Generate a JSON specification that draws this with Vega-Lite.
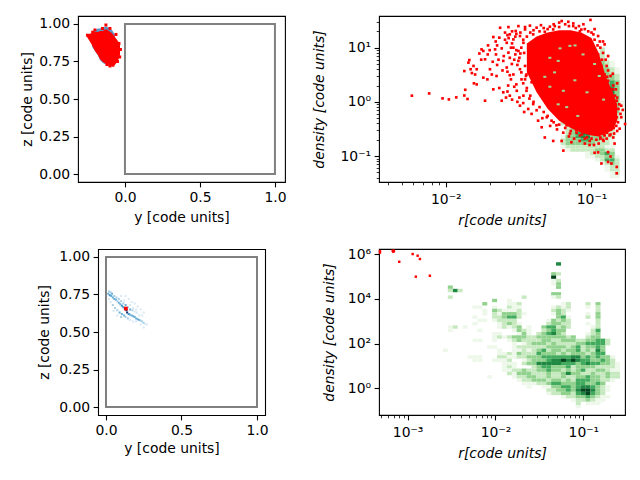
{"$schema":"https://vega.github.io/schema/vega-lite/v6.json","padding":{"left":20,"top":14,"right":0,"bottom":0},"spacing":17,"resolve":{"scale":{"color":"independent"}},"config":{"font":"DejaVu Sans","view":{"stroke":"black","strokeWidth":1.1},"axis":{"grid":false,"domain":false,"labelFont":"DejaVu Sans","titleFont":"DejaVu Sans","labelFontSize":13.9,"titleFontSize":13.9,"titleFontWeight":"normal","labelColor":"black","titleColor":"black","tickColor":"black","tickSize":4.9,"tickWidth":1.1,"labelPadding":3.5,"titlePadding":4,"labelOverlap":false,"labelBound":false,"labelFlush":false}},
"vconcat":[{"spacing":0,"resolve":{"scale":{"color":"independent"}},"hconcat":[
{"width":207,"height":166,"encoding":{"x":{"field":"r","type":"quantitative","scale":{"domain":[-0.313,1.067],"nice":false,"zero":false},"axis":{"values":[0,0.5,1],"format":".1f","title":"y [code units]","titlePadding":6}},"y":{"field":"d","type":"quantitative","scale":{"domain":[-0.053,1.053],"nice":false,"zero":false},"axis":{"values":[0,0.25,0.5,0.75,1],"format":".2f","title":"z [code units]"}}},
"layer":[
{"data":{"values":[{"r":0,"r2":1,"d":0,"d2":1}]},"mark":{"type":"rect","fillOpacity":0,"stroke":"gray","strokeWidth":2},"encoding":{"x2":{"field":"r2"},"y2":{"field":"d2"}}},
{"data":{"values":[{"r":-0.22,"d":0.95,"d2":0.85},{"r":-0.2,"d":0.96,"d2":0.82},{"r":-0.18,"d":0.97,"d2":0.79},{"r":-0.167,"d":0.97,"d2":0.76},{"r":-0.147,"d":0.975,"d2":0.74},{"r":-0.127,"d":0.985,"d2":0.73},{"r":-0.107,"d":0.975,"d2":0.72},{"r":-0.087,"d":0.96,"d2":0.72},{"r":-0.067,"d":0.93,"d2":0.73}]},"mark":{"type":"area","color":"#3d85c0","opacity":0.85},"encoding":{"y2":{"field":"d2"}}},
{"data":{"values":[{"r":-0.253,"d":0.933,"d2":0.913},{"r":-0.24,"d":0.933,"d2":0.893},{"r":-0.22,"d":0.94,"d2":0.86},{"r":-0.2,"d":0.947,"d2":0.82},{"r":-0.18,"d":0.947,"d2":0.793},{"r":-0.167,"d":0.953,"d2":0.767},{"r":-0.147,"d":0.953,"d2":0.747},{"r":-0.127,"d":0.967,"d2":0.733},{"r":-0.107,"d":0.953,"d2":0.727},{"r":-0.087,"d":0.94,"d2":0.72},{"r":-0.067,"d":0.913,"d2":0.727},{"r":-0.047,"d":0.887,"d2":0.753},{"r":-0.033,"d":0.86,"d2":0.793}]},"mark":{"type":"area","color":"red"},"encoding":{"y2":{"field":"d2"}}},
{"data":{"values":[{"r":-0.127,"d":0.993},{"r":-0.2,"d":0.96},{"r":-0.215,"d":0.945},{"r":-0.25,"d":0.925},{"r":-0.15,"d":0.97},{"r":-0.1,"d":0.97},{"r":-0.06,"d":0.93},{"r":-0.04,"d":0.87},{"r":-0.03,"d":0.83},{"r":-0.035,"d":0.78},{"r":-0.05,"d":0.75},{"r":-0.08,"d":0.725},{"r":-0.1,"d":0.72},{"r":-0.12,"d":0.73}]},"mark":{"type":"point","shape":"square","filled":true,"color":"red","size":9,"opacity":1}}
]},
{"width":24,"height":10,"view":{"stroke":null},"data":{"values":[]},"mark":"text","encoding":{}},
{"width":246,"height":166,"encoding":{"x":{"field":"r","type":"quantitative","scale":{"type":"log","domain":[0.00348,0.1698],"nice":false},"axis":{"values":[0.004,0.005,0.006,0.007,0.008,0.009,0.01,0.02,0.03,0.04,0.05,0.06,0.07,0.08,0.09,0.1],"labelPadding":6,"titlePadding":7,"tickSize":{"condition":{"test":"abs(log(datum.value)/LN10-round(log(datum.value)/LN10))<0.001","value":4.9},"value":2.8},"tickWidth":{"condition":{"test":"abs(log(datum.value)/LN10-round(log(datum.value)/LN10))<0.001","value":1.1},"value":0.8},"labelExpr":"abs(datum.value-0.01)<1e-6?'10⁻²':abs(datum.value-0.1)<1e-6?'10⁻¹':''","title":"r[code units]","titleFontStyle":"italic"}},"y":{"field":"d","type":"quantitative","scale":{"type":"log","domain":[0.0332,38.4],"nice":false},"axis":{"values":[0.04,0.05,0.06,0.07,0.08,0.09,0.1,0.2,0.3,0.4,0.5,0.6,0.7,0.8,0.9,1,2,3,4,5,6,7,8,9,10,20,30],"titlePadding":14,"tickSize":{"condition":{"test":"abs(log(datum.value)/LN10-round(log(datum.value)/LN10))<0.001","value":4.9},"value":2.8},"tickWidth":{"condition":{"test":"abs(log(datum.value)/LN10-round(log(datum.value)/LN10))<0.001","value":1.1},"value":0.8},"labelExpr":"abs(datum.value-0.1)<1e-6?'10⁻¹':abs(datum.value-1)<1e-6?'10⁰':abs(datum.value-10)<1e-6?'10¹':''","title":"density [code units]","titleFontStyle":"italic"}}},
"layer":[
{"data":{"values":[{"r":0.11,"d":8.75,"c":1},{"r":0.119,"d":8.75,"c":2},{"r":0.11,"d":6.61,"c":2},{"r":0.119,"d":6.61,"c":2},{"r":0.128,"d":6.61,"c":1},{"r":0.11,"d":4.99,"c":3},{"r":0.119,"d":4.99,"c":3},{"r":0.128,"d":4.99,"c":2},{"r":0.139,"d":4.99,"c":1},{"r":0.11,"d":3.77,"c":3},{"r":0.119,"d":3.77,"c":3},{"r":0.128,"d":3.77,"c":3},{"r":0.139,"d":3.77,"c":2},{"r":0.15,"d":3.77,"c":1},{"r":0.11,"d":2.84,"c":3},{"r":0.119,"d":2.84,"c":4},{"r":0.128,"d":2.84,"c":3},{"r":0.139,"d":2.84,"c":3},{"r":0.15,"d":2.84,"c":2},{"r":0.11,"d":2.15,"c":4},{"r":0.119,"d":2.15,"c":4},{"r":0.128,"d":2.15,"c":4},{"r":0.139,"d":2.15,"c":4},{"r":0.15,"d":2.15,"c":3},{"r":0.119,"d":1.62,"c":5},{"r":0.128,"d":1.62,"c":4},{"r":0.139,"d":1.62,"c":5},{"r":0.15,"d":1.62,"c":3},{"r":0.119,"d":1.22,"c":5},{"r":0.128,"d":1.22,"c":5},{"r":0.139,"d":1.22,"c":5},{"r":0.15,"d":1.22,"c":3},{"r":0.119,"d":0.922,"c":4},{"r":0.128,"d":0.922,"c":4},{"r":0.139,"d":0.922,"c":5},{"r":0.15,"d":0.922,"c":3},{"r":0.162,"d":0.922,"c":1},{"r":0.119,"d":0.697,"c":4},{"r":0.128,"d":0.697,"c":4},{"r":0.139,"d":0.697,"c":4},{"r":0.15,"d":0.697,"c":3},{"r":0.162,"d":0.697,"c":1},{"r":0.119,"d":0.526,"c":4},{"r":0.128,"d":0.526,"c":3},{"r":0.139,"d":0.526,"c":3},{"r":0.15,"d":0.526,"c":2},{"r":0.162,"d":0.526,"c":1}]},"mark":{"type":"rect","width":5,"height":6.8},"encoding":{"color":{"field":"c","type":"ordinal","legend":null,"scale":{"domain":[1,2,3,4,5,6],"range":["#eef8ea","#c7e9c0","#90d18d","#41ab5d","#1e8741","#00441b"]}}}},
{"data":{"values":[{"r":0.0638,"d":0.397,"c":2},{"r":0.069,"d":0.397,"c":2},{"r":0.0745,"d":0.397,"c":2},{"r":0.0805,"d":0.397,"c":3},{"r":0.0871,"d":0.397,"c":3},{"r":0.0941,"d":0.397,"c":3},{"r":0.1017,"d":0.397,"c":3},{"r":0.11,"d":0.397,"c":3},{"r":0.069,"d":0.345,"c":2},{"r":0.0745,"d":0.345,"c":3},{"r":0.0805,"d":0.345,"c":3},{"r":0.0871,"d":0.345,"c":4},{"r":0.0941,"d":0.345,"c":4},{"r":0.1017,"d":0.345,"c":3},{"r":0.11,"d":0.345,"c":4},{"r":0.119,"d":0.345,"c":3},{"r":0.128,"d":0.345,"c":3},{"r":0.139,"d":0.345,"c":2},{"r":0.069,"d":0.3,"c":2},{"r":0.0745,"d":0.3,"c":3},{"r":0.0805,"d":0.3,"c":3},{"r":0.0871,"d":0.3,"c":4},{"r":0.0941,"d":0.3,"c":5},{"r":0.1017,"d":0.3,"c":4},{"r":0.11,"d":0.3,"c":3},{"r":0.119,"d":0.3,"c":3},{"r":0.128,"d":0.3,"c":2},{"r":0.139,"d":0.3,"c":2},{"r":0.069,"d":0.261,"c":2},{"r":0.0745,"d":0.261,"c":3},{"r":0.0805,"d":0.261,"c":4},{"r":0.0871,"d":0.261,"c":5},{"r":0.0941,"d":0.261,"c":5},{"r":0.1017,"d":0.261,"c":4},{"r":0.11,"d":0.261,"c":4},{"r":0.119,"d":0.261,"c":3},{"r":0.128,"d":0.261,"c":2},{"r":0.139,"d":0.261,"c":2},{"r":0.0638,"d":0.226,"c":1},{"r":0.069,"d":0.226,"c":3},{"r":0.0745,"d":0.226,"c":3},{"r":0.0805,"d":0.226,"c":4},{"r":0.0871,"d":0.226,"c":5},{"r":0.0941,"d":0.226,"c":5},{"r":0.1017,"d":0.226,"c":3},{"r":0.11,"d":0.226,"c":3},{"r":0.119,"d":0.226,"c":3},{"r":0.128,"d":0.226,"c":2},{"r":0.139,"d":0.226,"c":2},{"r":0.0638,"d":0.197,"c":2},{"r":0.069,"d":0.197,"c":3},{"r":0.0745,"d":0.197,"c":3},{"r":0.0805,"d":0.197,"c":3},{"r":0.0871,"d":0.197,"c":4},{"r":0.0941,"d":0.197,"c":4},{"r":0.1017,"d":0.197,"c":3},{"r":0.11,"d":0.197,"c":3},{"r":0.119,"d":0.197,"c":2},{"r":0.128,"d":0.197,"c":2},{"r":0.139,"d":0.197,"c":1},{"r":0.0638,"d":0.171,"c":2},{"r":0.069,"d":0.171,"c":3},{"r":0.0745,"d":0.171,"c":3},{"r":0.0805,"d":0.171,"c":3},{"r":0.0871,"d":0.171,"c":3},{"r":0.0941,"d":0.171,"c":3},{"r":0.1017,"d":0.171,"c":3},{"r":0.11,"d":0.171,"c":2},{"r":0.119,"d":0.171,"c":2},{"r":0.128,"d":0.171,"c":2},{"r":0.139,"d":0.171,"c":1},{"r":0.0638,"d":0.148,"c":1},{"r":0.069,"d":0.148,"c":2},{"r":0.0745,"d":0.148,"c":2},{"r":0.0805,"d":0.148,"c":2},{"r":0.0871,"d":0.148,"c":2},{"r":0.0941,"d":0.148,"c":2},{"r":0.1017,"d":0.148,"c":2},{"r":0.11,"d":0.148,"c":2},{"r":0.119,"d":0.148,"c":2},{"r":0.128,"d":0.148,"c":1},{"r":0.139,"d":0.148,"c":1},{"r":0.069,"d":0.129,"c":1},{"r":0.0745,"d":0.129,"c":2},{"r":0.0805,"d":0.129,"c":2},{"r":0.0871,"d":0.129,"c":2},{"r":0.0941,"d":0.129,"c":2},{"r":0.1017,"d":0.129,"c":2},{"r":0.11,"d":0.129,"c":3},{"r":0.119,"d":0.129,"c":3},{"r":0.128,"d":0.129,"c":2},{"r":0.139,"d":0.129,"c":2},{"r":0.0941,"d":0.112,"c":1},{"r":0.1017,"d":0.112,"c":2},{"r":0.11,"d":0.112,"c":2},{"r":0.119,"d":0.112,"c":3},{"r":0.128,"d":0.112,"c":4},{"r":0.139,"d":0.112,"c":3},{"r":0.0941,"d":0.0973,"c":1},{"r":0.1017,"d":0.0973,"c":1},{"r":0.11,"d":0.0973,"c":2},{"r":0.119,"d":0.0973,"c":2},{"r":0.128,"d":0.0973,"c":3},{"r":0.139,"d":0.0973,"c":3},{"r":0.15,"d":0.0973,"c":1},{"r":0.11,"d":0.0845,"c":1},{"r":0.119,"d":0.0845,"c":2},{"r":0.128,"d":0.0845,"c":4},{"r":0.139,"d":0.0845,"c":4},{"r":0.15,"d":0.0845,"c":2},{"r":0.119,"d":0.0734,"c":1},{"r":0.128,"d":0.0734,"c":2},{"r":0.139,"d":0.0734,"c":3},{"r":0.15,"d":0.0734,"c":2},{"r":0.128,"d":0.0638,"c":1},{"r":0.139,"d":0.0638,"c":2},{"r":0.15,"d":0.0638,"c":2},{"r":0.128,"d":0.0555,"c":1},{"r":0.139,"d":0.0555,"c":2},{"r":0.15,"d":0.0555,"c":2},{"r":0.139,"d":0.0481,"c":1},{"r":0.15,"d":0.0481,"c":2},{"r":0.139,"d":0.0418,"c":1},{"r":0.15,"d":0.0418,"c":1}]},"mark":{"type":"rect","width":5,"height":3.4},"encoding":{"color":{"field":"c","type":"ordinal","legend":null,"scale":{"domain":[1,2,3,4,5,6],"range":["#eef8ea","#c7e9c0","#90d18d","#41ab5d","#1e8741","#00441b"]}}}},
{"data":{"values":[{"r":0.036,"d":12,"d2":3.5},{"r":0.042,"d":16,"d2":1.5},{"r":0.05,"d":19,"d2":0.75},{"r":0.06,"d":21,"d2":0.45},{"r":0.072,"d":21,"d2":0.33},{"r":0.085,"d":19,"d2":0.27},{"r":0.1,"d":15,"d2":0.24},{"r":0.112,"d":8,"d2":0.23},{"r":0.125,"d":3,"d2":0.26},{"r":0.14,"d":1.5,"d2":0.3},{"r":0.15,"d":0.9,"d2":0.45}]},"mark":{"type":"area","color":"red"},"encoding":{"y2":{"field":"d2"}}},
{"data":{"values":[{"r":0.0518,"d":1.9},{"r":0.0558,"d":3.5},{"r":0.0608,"d":9.7},{"r":0.0711,"d":10.8},{"r":0.0771,"d":11},{"r":0.0875,"d":7.5},{"r":0.105,"d":5},{"r":0.113,"d":3},{"r":0.0641,"d":1.6},{"r":0.0591,"d":0.9},{"r":0.0769,"d":2.5},{"r":0.0591,"d":5.7},{"r":0.0518,"d":6.5},{"r":0.0478,"d":2.9},{"r":0.0932,"d":1.5},{"r":0.121,"d":1.1},{"r":0.0805,"d":0.55},{"r":0.0676,"d":0.8}]},"mark":{"type":"rect","width":3,"height":2,"color":"#a1d99b"}},
{"data":{"values":[{"r":0.00585,"d":1.3},{"r":0.00769,"d":1.43},{"r":0.0095,"d":1.16},{"r":0.0105,"d":1.11},{"r":0.0118,"d":1.21},{"r":0.0134,"d":1.31},{"r":0.0136,"d":1.67},{"r":0.0141,"d":1.13},{"r":0.0186,"d":1.05},{"r":0.0143,"d":5.3},{"r":0.0145,"d":5.9},{"r":0.0134,"d":3.7},{"r":0.0148,"d":4},{"r":0.0155,"d":4.6},{"r":0.0163,"d":4},{"r":0.0159,"d":3.2},{"r":0.0151,"d":3.4},{"r":0.0156,"d":2.2},{"r":0.0163,"d":2.1},{"r":0.0176,"d":9.3},{"r":0.0181,"d":8.7},{"r":0.0194,"d":7.5},{"r":0.0218,"d":9.3},{"r":0.0186,"d":6.1},{"r":0.0181,"d":2.8},{"r":0.0193,"d":2.6},{"r":0.0201,"d":4},{"r":0.0207,"d":3.2},{"r":0.0223,"d":3},{"r":0.0221,"d":7.5},{"r":0.023,"d":6},{"r":0.0212,"d":15.7},{"r":0.0236,"d":23.3},{"r":0.0269,"d":24},{"r":0.0315,"d":25},{"r":0.0378,"d":25.5},{"r":0.0233,"d":15.3},{"r":0.0242,"d":9.7},{"r":0.0275,"d":17.6},{"r":0.0302,"d":20.3},{"r":0.0291,"d":14.2},{"r":0.0262,"d":12.3},{"r":0.0323,"d":16.4},{"r":0.035,"d":21.7},{"r":0.042,"d":23.4},{"r":0.0518,"d":24.4},{"r":0.0624,"d":31},{"r":0.0693,"d":30},{"r":0.0749,"d":25},{"r":0.0984,"d":32.5},{"r":0.0852,"d":21.6},{"r":0.111,"d":16.4},{"r":0.123,"d":11.5},{"r":0.114,"d":13},{"r":0.103,"d":17.6},{"r":0.0832,"d":20},{"r":0.0546,"d":21.7},{"r":0.0478,"d":19.6},{"r":0.0398,"d":17.6},{"r":0.0341,"d":12.3},{"r":0.0368,"d":10},{"r":0.0315,"d":8.7},{"r":0.0291,"d":10},{"r":0.0269,"d":8.1},{"r":0.0248,"d":5.7},{"r":0.0262,"d":4.3},{"r":0.0284,"d":5},{"r":0.0315,"d":5.7},{"r":0.0291,"d":3.2},{"r":0.0323,"d":4},{"r":0.035,"d":4.6},{"r":0.0331,"d":2.6},{"r":0.0358,"d":3.2},{"r":0.0388,"d":2.3},{"r":0.0212,"d":1.7},{"r":0.0233,"d":1.8},{"r":0.0248,"d":1.5},{"r":0.0259,"d":1.2},{"r":0.0242,"d":1.05},{"r":0.0275,"d":1.3},{"r":0.0307,"d":1.6},{"r":0.0341,"d":1.3},{"r":0.0358,"d":1.6},{"r":0.0323,"d":0.85},{"r":0.0368,"d":0.74},{"r":0.0398,"d":0.91},{"r":0.0388,"d":0.6},{"r":0.043,"d":0.45},{"r":0.0455,"d":0.34},{"r":0.0493,"d":0.52},{"r":0.0478,"d":0.22},{"r":0.0546,"d":0.19},{"r":0.0641,"d":0.126},{"r":0.0624,"d":0.19},{"r":0.0711,"d":0.26},{"r":0.0728,"d":0.18},{"r":0.0675,"d":0.37},{"r":0.0575,"d":0.37},{"r":0.0532,"d":0.45},{"r":0.09,"d":0.21},{"r":0.105,"d":0.115},{"r":0.111,"d":0.117},{"r":0.121,"d":0.19},{"r":0.135,"d":0.098},{"r":0.13,"d":0.118},{"r":0.137,"d":0.073},{"r":0.149,"d":0.048},{"r":0.149,"d":0.063},{"r":0.117,"d":0.073},{"r":0.13,"d":0.078},{"r":0.144,"d":0.17},{"r":0.141,"d":0.22},{"r":0.156,"d":0.32},{"r":0.16,"d":0.52},{"r":0.17,"d":0.39},{"r":0.164,"d":0.71},{"r":0.153,"d":0.74},{"r":0.149,"d":1.05},{"r":0.141,"d":2},{"r":0.13,"d":2.45},{"r":0.123,"d":3.2},{"r":0.117,"d":4.6},{"r":0.127,"d":4.6},{"r":0.111,"d":7.5},{"r":0.149,"d":0.52},{"r":0.133,"d":0.24},{"r":0.123,"d":0.24},{"r":0.115,"d":0.21},{"r":0.1,"d":0.28},{"r":0.0973,"d":0.19},{"r":0.0832,"d":0.24},{"r":0.0786,"d":0.3},{"r":0.034,"d":14},{"r":0.033,"d":10},{"r":0.0345,"d":8},{"r":0.032,"d":6.5},{"r":0.033,"d":3.5},{"r":0.034,"d":2.2},{"r":0.0305,"d":9},{"r":0.0285,"d":12},{"r":0.027,"d":15},{"r":0.0255,"d":19},{"r":0.03,"d":16},{"r":0.0325,"d":19},{"r":0.036,"d":16},{"r":0.038,"d":19},{"r":0.04,"d":21},{"r":0.044,"d":20},{"r":0.047,"d":23},{"r":0.05,"d":22},{"r":0.056,"d":25},{"r":0.06,"d":24},{"r":0.066,"d":27},{"r":0.07,"d":25},{"r":0.078,"d":23},{"r":0.082,"d":25},{"r":0.09,"d":22},{"r":0.095,"d":20},{"r":0.1,"d":19},{"r":0.105,"d":14},{"r":0.11,"d":11},{"r":0.115,"d":10},{"r":0.12,"d":8},{"r":0.118,"d":6},{"r":0.125,"d":6},{"r":0.13,"d":3.8},{"r":0.135,"d":3},{"r":0.128,"d":2.9},{"r":0.14,"d":1.7},{"r":0.145,"d":1.3},{"r":0.15,"d":1.2},{"r":0.155,"d":0.9},{"r":0.16,"d":0.85},{"r":0.158,"d":0.6},{"r":0.152,"d":0.42},{"r":0.148,"d":0.36},{"r":0.142,"d":0.33},{"r":0.135,"d":0.31},{"r":0.128,"d":0.27},{"r":0.122,"d":0.25},{"r":0.115,"d":0.22},{"r":0.108,"d":0.2},{"r":0.1,"d":0.21},{"r":0.093,"d":0.22},{"r":0.086,"d":0.25},{"r":0.079,"d":0.27},{"r":0.072,"d":0.29},{"r":0.066,"d":0.33},{"r":0.06,"d":0.38},{"r":0.055,"d":0.42},{"r":0.05,"d":0.55},{"r":0.047,"d":0.65},{"r":0.044,"d":0.8},{"r":0.04,"d":1},{"r":0.038,"d":1.3},{"r":0.036,"d":1.8},{"r":0.035,"d":2.6},{"r":0.0355,"d":3},{"r":0.0375,"d":1.15},{"r":0.042,"d":0.7},{"r":0.046,"d":0.5},{"r":0.052,"d":0.36},{"r":0.058,"d":0.31},{"r":0.064,"d":0.27},{"r":0.07,"d":0.23},{"r":0.076,"d":0.21},{"r":0.083,"d":0.19},{"r":0.09,"d":0.17},{"r":0.097,"d":0.16},{"r":0.104,"d":0.16},{"r":0.112,"d":0.17},{"r":0.12,"d":0.2},{"r":0.127,"d":0.21},{"r":0.135,"d":0.25},{"r":0.143,"d":0.26},{"r":0.15,"d":0.29},{"r":0.0265,"d":3.6},{"r":0.028,"d":2.6},{"r":0.0305,"d":2.1},{"r":0.0295,"d":1.9},{"r":0.0275,"d":3.1},{"r":0.025,"d":7},{"r":0.0225,"d":11},{"r":0.022,"d":13},{"r":0.0255,"d":14},{"r":0.028,"d":10},{"r":0.03,"d":7.5},{"r":0.0325,"d":7.8},{"r":0.031,"d":4.8},{"r":0.0295,"d":6},{"r":0.0275,"d":6.5},{"r":0.0245,"d":3.8},{"r":0.0225,"d":4.8},{"r":0.021,"d":5.5},{"r":0.02,"d":9},{"r":0.0195,"d":11},{"r":0.0175,"d":6},{"r":0.017,"d":7.8},{"r":0.0268,"d":2},{"r":0.032,"d":1.2},{"r":0.034,"d":0.95},{"r":0.0345,"d":0.65},{"r":0.031,"d":1},{"r":0.0285,"d":1.1},{"r":0.0265,"d":1.55},{"r":0.0305,"d":18},{"r":0.0285,"d":20},{"r":0.0265,"d":17},{"r":0.035,"d":24},{"r":0.045,"d":26},{"r":0.055,"d":27},{"r":0.075,"d":28},{"r":0.088,"d":27},{"r":0.06,"d":29},{"r":0.105,"d":22},{"r":0.12,"d":13},{"r":0.13,"d":7},{"r":0.14,"d":3.3},{"r":0.15,"d":2.2},{"r":0.147,"d":1.7}]},"mark":{"type":"point","shape":"square","filled":true,"color":"red","size":7,"opacity":1}}
]}]},
{"spacing":0,"resolve":{"scale":{"color":"independent"}},"hconcat":[
{"width":187,"height":166,"view":{"stroke":null},"encoding":{"x":{"field":"r","type":"quantitative","scale":{"domain":[-0.1854,1.053],"nice":false,"zero":false},"axis":{"values":[0,0.5,1],"format":".1f","title":"y [code units]"}},"y":{"field":"d","type":"quantitative","scale":{"domain":[-0.053,1.053],"nice":false,"zero":false},"axis":{"offset":-20,"titlePadding":7,"values":[0,0.25,0.5,0.75,1],"format":".2f","title":"z [code units]"}}},
"layer":[
{"data":{"values":[{"r":-0.0497,"r2":1.0563,"d":-0.0563,"d2":1.0497}]},"mark":{"type":"rect","fillOpacity":0,"stroke":"black","strokeWidth":1.1},"encoding":{"x2":{"field":"r2"},"y2":{"field":"d2"}}},
{"data":{"values":[{"r":0,"r2":1,"d":0,"d2":1}]},"mark":{"type":"rect","fillOpacity":0,"stroke":"gray","strokeWidth":2},"encoding":{"x2":{"field":"r2"},"y2":{"field":"d2"}}},
{"data":{"values":[{"r":0.13,"d":0.74,"c":1},{"r":0.15,"d":0.72,"c":1},{"r":0.17,"d":0.7,"c":1},{"r":0.19,"d":0.69,"c":1},{"r":0.21,"d":0.67,"c":1},{"r":0.23,"d":0.65,"c":1},{"r":0.25,"d":0.63,"c":1},{"r":0.16,"d":0.68,"c":1},{"r":0.18,"d":0.66,"c":1},{"r":0.2,"d":0.65,"c":1},{"r":0.12,"d":0.71,"c":1},{"r":0.1,"d":0.74,"c":1},{"r":0.24,"d":0.61,"c":1},{"r":0.22,"d":0.61,"c":1},{"r":0.2,"d":0.57,"c":1},{"r":0.23,"d":0.55,"c":1},{"r":0.25,"d":0.53,"c":1},{"r":0.18,"d":0.57,"c":1},{"r":0.02,"d":0.72,"c":1},{"r":0.03,"d":0.7,"c":1},{"r":0.045,"d":0.68,"c":2},{"r":0.06,"d":0.66,"c":2},{"r":0.075,"d":0.645,"c":2},{"r":0.09,"d":0.63,"c":3},{"r":0.105,"d":0.62,"c":3},{"r":0.12,"d":0.61,"c":3},{"r":0.13,"d":0.6,"c":2},{"r":0.145,"d":0.59,"c":2},{"r":0.16,"d":0.58,"c":1},{"r":0.1,"d":0.6,"c":2},{"r":0.075,"d":0.61,"c":1},{"r":0.05,"d":0.64,"c":1},{"r":0.02,"d":0.77,"c":2},{"r":0.03,"d":0.765,"c":2},{"r":0.04,"d":0.755,"c":3},{"r":0.055,"d":0.74,"c":2},{"r":0.07,"d":0.73,"c":2},{"r":0.085,"d":0.72,"c":2},{"r":0.1,"d":0.705,"c":2},{"r":0.115,"d":0.69,"c":2},{"r":0.13,"d":0.68,"c":3},{"r":0.145,"d":0.665,"c":2},{"r":0.16,"d":0.65,"c":3},{"r":0.175,"d":0.645,"c":2},{"r":0.19,"d":0.635,"c":1},{"r":0.205,"d":0.63,"c":1},{"r":0.015,"d":0.755,"c":3},{"r":0.025,"d":0.745,"c":4},{"r":0.035,"d":0.74,"c":3},{"r":0.045,"d":0.73,"c":3},{"r":0.055,"d":0.72,"c":3},{"r":0.065,"d":0.715,"c":3},{"r":0.075,"d":0.705,"c":2},{"r":0.085,"d":0.695,"c":3},{"r":0.095,"d":0.685,"c":3},{"r":0.105,"d":0.675,"c":4},{"r":0.115,"d":0.665,"c":4},{"r":0.125,"d":0.655,"c":5},{"r":0.135,"d":0.645,"c":6},{"r":0.14,"d":0.63,"c":6},{"r":0.15,"d":0.62,"c":4},{"r":0.16,"d":0.615,"c":3},{"r":0.17,"d":0.61,"c":3},{"r":0.18,"d":0.605,"c":3},{"r":0.19,"d":0.6,"c":3},{"r":0.2,"d":0.59,"c":3},{"r":0.21,"d":0.585,"c":3},{"r":0.22,"d":0.58,"c":3},{"r":0.23,"d":0.575,"c":2},{"r":0.24,"d":0.57,"c":2},{"r":0.25,"d":0.56,"c":2},{"r":0.26,"d":0.555,"c":1},{"r":0.27,"d":0.55,"c":1}]},"mark":{"type":"rect","width":2,"height":2},"encoding":{"color":{"field":"c","type":"ordinal","legend":null,"scale":{"domain":[1,2,3,4,5,6],"range":["#d8e8f5","#a9cfe6","#6baed6","#3a8fc6","#1a6aad","#08306b"]}}}},
{"data":{"values":[{"r":0.132,"d":0.656}]},"mark":{"type":"point","shape":"square","filled":true,"color":"red","size":14,"opacity":1}}
]},
{"width":52,"height":10,"view":{"stroke":null},"data":{"values":[]},"mark":"text","encoding":{}},
{"width":246,"height":166,"encoding":{"x":{"field":"r","type":"quantitative","scale":{"type":"log","domain":[0.000472,0.298],"nice":false},"axis":{"values":[0.0005,0.0006,0.0007,0.0008,0.0009,0.001,0.002,0.003,0.004,0.005,0.006,0.007,0.008,0.009,0.01,0.02,0.03,0.04,0.05,0.06,0.07,0.08,0.09,0.1,0.2],"labelPadding":6,"titlePadding":7,"tickSize":{"condition":{"test":"abs(log(datum.value)/LN10-round(log(datum.value)/LN10))<0.001","value":4.9},"value":2.8},"tickWidth":{"condition":{"test":"abs(log(datum.value)/LN10-round(log(datum.value)/LN10))<0.001","value":1.1},"value":0.8},"labelExpr":"abs(datum.value-0.001)<1e-7?'10⁻³':abs(datum.value-0.01)<1e-6?'10⁻²':abs(datum.value-0.1)<1e-6?'10⁻¹':''","title":"r[code units]","titleFontStyle":"italic"}},"y":{"field":"d","type":"quantitative","scale":{"type":"log","domain":[0.063,1738000],"nice":false},"axis":{"values":[1,100,10000,1000000],"titlePadding":11,"labelExpr":"datum.value==1?'10⁰':datum.value==100?'10²':datum.value==10000?'10⁴':'10⁶'","title":"density [code units]","titleFontStyle":"italic"}}},
"layer":[
{"data":{"values":[{"r":0.0522,"d":372000,"c":5},{"r":0.0459,"d":133000,"c":3},{"r":0.0522,"d":133000,"c":2},{"r":0.0459,"d":94400,"c":6},{"r":0.0522,"d":67000,"c":2},{"r":0.0459,"d":67000,"c":1},{"r":0.0522,"d":47500,"c":3},{"r":0.0459,"d":47500,"c":1},{"r":0.0522,"d":33700,"c":3},{"r":0.00306,"d":33700,"c":3},{"r":0.0522,"d":17000,"c":3},{"r":0.0459,"d":17000,"c":3},{"r":0.00348,"d":23900,"c":5},{"r":0.00306,"d":23900,"c":2},{"r":0.00396,"d":23900,"c":2},{"r":0.00306,"d":12100,"c":2},{"r":0.0522,"d":12100,"c":2},{"r":0.0459,"d":12100,"c":1},{"r":0.00977,"d":8570,"c":3},{"r":0.0144,"d":8570,"c":1},{"r":0.0212,"d":12100,"c":2},{"r":0.00755,"d":6080,"c":3},{"r":0.0144,"d":6080,"c":1},{"r":0.0164,"d":6080,"c":1},{"r":0.0186,"d":6080,"c":2},{"r":0.0594,"d":6080,"c":1},{"r":0.0676,"d":6080,"c":2},{"r":0.113,"d":6080,"c":2},{"r":0.147,"d":6080,"c":3},{"r":0.00583,"d":4320,"c":1},{"r":0.00664,"d":4320,"c":1},{"r":0.00977,"d":4320,"c":1},{"r":0.0144,"d":4320,"c":2},{"r":0.0164,"d":4320,"c":1},{"r":0.0186,"d":4320,"c":1},{"r":0.0459,"d":4320,"c":1},{"r":0.0522,"d":4320,"c":2},{"r":0.0594,"d":4320,"c":1},{"r":0.0676,"d":4320,"c":2},{"r":0.113,"d":4320,"c":1},{"r":0.147,"d":4320,"c":2},{"r":0.00755,"d":3060,"c":1},{"r":0.00977,"d":3060,"c":3},{"r":0.0111,"d":3060,"c":2},{"r":0.0126,"d":3060,"c":1},{"r":0.0144,"d":3060,"c":1},{"r":0.0164,"d":3060,"c":1},{"r":0.0186,"d":3060,"c":2},{"r":0.0459,"d":3060,"c":2},{"r":0.0522,"d":3060,"c":3},{"r":0.0594,"d":3060,"c":2},{"r":0.0676,"d":3060,"c":1},{"r":0.147,"d":3060,"c":2},{"r":0.00755,"d":2170,"c":1},{"r":0.00977,"d":2170,"c":2},{"r":0.0111,"d":2170,"c":1},{"r":0.0126,"d":2170,"c":3},{"r":0.0144,"d":2170,"c":3},{"r":0.0164,"d":2170,"c":3},{"r":0.0186,"d":2170,"c":2},{"r":0.0212,"d":2170,"c":1},{"r":0.0459,"d":2170,"c":1},{"r":0.0522,"d":2170,"c":3},{"r":0.0594,"d":2170,"c":2},{"r":0.113,"d":2170,"c":1},{"r":0.147,"d":2170,"c":3},{"r":0.00583,"d":1540,"c":1},{"r":0.00977,"d":1540,"c":2},{"r":0.0111,"d":1540,"c":2},{"r":0.0126,"d":1540,"c":3},{"r":0.0144,"d":1540,"c":4},{"r":0.0164,"d":1540,"c":4},{"r":0.0186,"d":1540,"c":2},{"r":0.0522,"d":1540,"c":3},{"r":0.0594,"d":1540,"c":4},{"r":0.0676,"d":1540,"c":1},{"r":0.113,"d":1540,"c":2},{"r":0.147,"d":1540,"c":3},{"r":0.00664,"d":1100,"c":1},{"r":0.00755,"d":1100,"c":1},{"r":0.00977,"d":1100,"c":1},{"r":0.0111,"d":1100,"c":2},{"r":0.0126,"d":1100,"c":2},{"r":0.0144,"d":1100,"c":2},{"r":0.0164,"d":1100,"c":2},{"r":0.0404,"d":1100,"c":1},{"r":0.0459,"d":1100,"c":3},{"r":0.0522,"d":1100,"c":2},{"r":0.0594,"d":1100,"c":3},{"r":0.0676,"d":1100,"c":2},{"r":0.147,"d":1100,"c":2},{"r":0.00583,"d":778,"c":1},{"r":0.0111,"d":778,"c":1},{"r":0.0126,"d":778,"c":2},{"r":0.0144,"d":778,"c":3},{"r":0.0164,"d":778,"c":2},{"r":0.0186,"d":778,"c":1},{"r":0.0404,"d":778,"c":2},{"r":0.0459,"d":778,"c":3},{"r":0.0522,"d":778,"c":3},{"r":0.0594,"d":778,"c":2},{"r":0.0676,"d":778,"c":2},{"r":0.113,"d":778,"c":1},{"r":0.147,"d":778,"c":2},{"r":0.00306,"d":552,"c":1},{"r":0.00348,"d":552,"c":2},{"r":0.00451,"d":552,"c":1},{"r":0.0111,"d":552,"c":1},{"r":0.0126,"d":552,"c":2},{"r":0.0144,"d":552,"c":1},{"r":0.0164,"d":552,"c":2},{"r":0.0186,"d":552,"c":3},{"r":0.0241,"d":552,"c":1},{"r":0.0355,"d":552,"c":3},{"r":0.0404,"d":552,"c":4},{"r":0.0459,"d":552,"c":4},{"r":0.0522,"d":552,"c":2},{"r":0.0594,"d":552,"c":3},{"r":0.0676,"d":552,"c":2},{"r":0.129,"d":552,"c":1},{"r":0.147,"d":552,"c":2},{"r":0.00306,"d":392,"c":1},{"r":0.00664,"d":392,"c":1},{"r":0.0164,"d":392,"c":1},{"r":0.0186,"d":392,"c":3},{"r":0.0212,"d":392,"c":2},{"r":0.0241,"d":392,"c":1},{"r":0.0355,"d":392,"c":2},{"r":0.0404,"d":392,"c":3},{"r":0.0459,"d":392,"c":4},{"r":0.0522,"d":392,"c":3},{"r":0.0594,"d":392,"c":3},{"r":0.113,"d":278,"c":1},{"r":0.129,"d":392,"c":2},{"r":0.147,"d":392,"c":4},{"r":0.00977,"d":278,"c":1},{"r":0.0111,"d":278,"c":1},{"r":0.0186,"d":278,"c":1},{"r":0.0212,"d":278,"c":3},{"r":0.0241,"d":278,"c":1},{"r":0.0312,"d":278,"c":2},{"r":0.0355,"d":278,"c":3},{"r":0.0404,"d":278,"c":4},{"r":0.0459,"d":278,"c":5},{"r":0.0522,"d":278,"c":3},{"r":0.0594,"d":278,"c":2},{"r":0.129,"d":278,"c":2},{"r":0.147,"d":278,"c":3},{"r":0.00977,"d":197,"c":1},{"r":0.0111,"d":197,"c":2},{"r":0.0126,"d":197,"c":1},{"r":0.0144,"d":197,"c":2},{"r":0.0164,"d":197,"c":3},{"r":0.0186,"d":197,"c":3},{"r":0.0212,"d":197,"c":3},{"r":0.0241,"d":197,"c":2},{"r":0.0274,"d":197,"c":2},{"r":0.0312,"d":197,"c":3},{"r":0.0355,"d":197,"c":3},{"r":0.0404,"d":197,"c":3},{"r":0.0459,"d":197,"c":3},{"r":0.0522,"d":197,"c":3},{"r":0.0594,"d":197,"c":3},{"r":0.0676,"d":197,"c":2},{"r":0.0769,"d":197,"c":3},{"r":0.113,"d":197,"c":2},{"r":0.129,"d":197,"c":3},{"r":0.147,"d":197,"c":3},{"r":0.00583,"d":140,"c":1},{"r":0.00664,"d":140,"c":1},{"r":0.00977,"d":140,"c":1},{"r":0.0144,"d":140,"c":1},{"r":0.0164,"d":140,"c":2},{"r":0.0186,"d":140,"c":3},{"r":0.0212,"d":140,"c":2},{"r":0.0241,"d":140,"c":2},{"r":0.0274,"d":140,"c":2},{"r":0.0312,"d":140,"c":2},{"r":0.0355,"d":140,"c":3},{"r":0.0404,"d":140,"c":3},{"r":0.0459,"d":140,"c":2},{"r":0.0522,"d":140,"c":2},{"r":0.0594,"d":140,"c":3},{"r":0.0676,"d":140,"c":3},{"r":0.0769,"d":140,"c":3},{"r":0.0875,"d":140,"c":2},{"r":0.0995,"d":140,"c":2},{"r":0.113,"d":140,"c":3},{"r":0.129,"d":140,"c":3},{"r":0.147,"d":140,"c":4},{"r":0.167,"d":140,"c":4},{"r":0.19,"d":140,"c":2},{"r":0.0164,"d":99.5,"c":1},{"r":0.0212,"d":99.5,"c":1},{"r":0.0241,"d":99.5,"c":2},{"r":0.0274,"d":99.5,"c":3},{"r":0.0312,"d":99.5,"c":3},{"r":0.0355,"d":99.5,"c":3},{"r":0.0404,"d":99.5,"c":2},{"r":0.0459,"d":99.5,"c":3},{"r":0.0522,"d":99.5,"c":2},{"r":0.0594,"d":99.5,"c":2},{"r":0.0676,"d":99.5,"c":2},{"r":0.0769,"d":99.5,"c":2},{"r":0.0875,"d":99.5,"c":3},{"r":0.0995,"d":99.5,"c":3},{"r":0.113,"d":99.5,"c":4},{"r":0.129,"d":99.5,"c":4},{"r":0.147,"d":99.5,"c":4},{"r":0.167,"d":99.5,"c":4},{"r":0.19,"d":99.5,"c":2},{"r":0.00859,"d":70.6,"c":1},{"r":0.00977,"d":70.6,"c":1},{"r":0.0164,"d":70.6,"c":1},{"r":0.0186,"d":70.6,"c":2},{"r":0.0212,"d":70.6,"c":2},{"r":0.0241,"d":70.6,"c":2},{"r":0.0274,"d":70.6,"c":2},{"r":0.0312,"d":70.6,"c":2},{"r":0.0355,"d":70.6,"c":2},{"r":0.0404,"d":70.6,"c":3},{"r":0.0459,"d":70.6,"c":3},{"r":0.0522,"d":70.6,"c":3},{"r":0.0594,"d":70.6,"c":3},{"r":0.0676,"d":70.6,"c":2},{"r":0.0769,"d":70.6,"c":3},{"r":0.0875,"d":70.6,"c":4},{"r":0.0995,"d":70.6,"c":2},{"r":0.113,"d":70.6,"c":3},{"r":0.129,"d":70.6,"c":3},{"r":0.147,"d":70.6,"c":4},{"r":0.167,"d":70.6,"c":3},{"r":0.00269,"d":50.1,"c":1},{"r":0.0111,"d":50.1,"c":1},{"r":0.0164,"d":50.1,"c":1},{"r":0.0186,"d":50.1,"c":1},{"r":0.0212,"d":50.1,"c":2},{"r":0.0241,"d":50.1,"c":1},{"r":0.0274,"d":50.1,"c":2},{"r":0.0312,"d":50.1,"c":3},{"r":0.0355,"d":50.1,"c":4},{"r":0.0404,"d":50.1,"c":2},{"r":0.0459,"d":50.1,"c":3},{"r":0.0522,"d":50.1,"c":3},{"r":0.0594,"d":50.1,"c":2},{"r":0.0676,"d":50.1,"c":3},{"r":0.0769,"d":50.1,"c":3},{"r":0.0875,"d":50.1,"c":4},{"r":0.0995,"d":50.1,"c":2},{"r":0.113,"d":50.1,"c":3},{"r":0.129,"d":50.1,"c":2},{"r":0.147,"d":50.1,"c":5},{"r":0.167,"d":50.1,"c":3},{"r":0.0111,"d":35.6,"c":1},{"r":0.0126,"d":35.6,"c":1},{"r":0.0144,"d":35.6,"c":2},{"r":0.0164,"d":35.6,"c":1},{"r":0.0186,"d":35.6,"c":3},{"r":0.0212,"d":35.6,"c":2},{"r":0.0241,"d":35.6,"c":2},{"r":0.0274,"d":35.6,"c":2},{"r":0.0312,"d":35.6,"c":4},{"r":0.0355,"d":35.6,"c":3},{"r":0.0404,"d":35.6,"c":3},{"r":0.0459,"d":35.6,"c":3},{"r":0.0522,"d":35.6,"c":2},{"r":0.0594,"d":35.6,"c":3},{"r":0.0676,"d":35.6,"c":2},{"r":0.0769,"d":35.6,"c":3},{"r":0.0875,"d":35.6,"c":3},{"r":0.0995,"d":35.6,"c":3},{"r":0.113,"d":35.6,"c":2},{"r":0.129,"d":35.6,"c":3},{"r":0.147,"d":35.6,"c":4},{"r":0.167,"d":35.6,"c":4},{"r":0.00513,"d":25.2,"c":1},{"r":0.00583,"d":25.2,"c":1},{"r":0.00664,"d":25.2,"c":1},{"r":0.0111,"d":25.2,"c":2},{"r":0.0126,"d":25.2,"c":2},{"r":0.0144,"d":25.2,"c":1},{"r":0.0164,"d":25.2,"c":1},{"r":0.0186,"d":25.2,"c":2},{"r":0.0212,"d":25.2,"c":2},{"r":0.0241,"d":25.2,"c":3},{"r":0.0274,"d":25.2,"c":3},{"r":0.0312,"d":25.2,"c":3},{"r":0.0355,"d":25.2,"c":4},{"r":0.0404,"d":25.2,"c":4},{"r":0.0459,"d":25.2,"c":4},{"r":0.0522,"d":25.2,"c":4},{"r":0.0594,"d":25.2,"c":4},{"r":0.0676,"d":25.2,"c":4},{"r":0.0769,"d":25.2,"c":5},{"r":0.0875,"d":25.2,"c":5},{"r":0.0995,"d":25.2,"c":3},{"r":0.113,"d":25.2,"c":4},{"r":0.129,"d":25.2,"c":3},{"r":0.147,"d":25.2,"c":4},{"r":0.167,"d":25.2,"c":3},{"r":0.19,"d":25.2,"c":3},{"r":0.216,"d":25.2,"c":1},{"r":0.00583,"d":17.9,"c":1},{"r":0.00664,"d":17.9,"c":1},{"r":0.00977,"d":17.9,"c":1},{"r":0.0111,"d":17.9,"c":1},{"r":0.0126,"d":17.9,"c":1},{"r":0.0144,"d":17.9,"c":2},{"r":0.0212,"d":17.9,"c":1},{"r":0.0241,"d":17.9,"c":2},{"r":0.0274,"d":17.9,"c":3},{"r":0.0312,"d":17.9,"c":3},{"r":0.0355,"d":17.9,"c":3},{"r":0.0404,"d":17.9,"c":4},{"r":0.0459,"d":17.9,"c":5},{"r":0.0522,"d":17.9,"c":5},{"r":0.0594,"d":17.9,"c":6},{"r":0.0676,"d":17.9,"c":5},{"r":0.0769,"d":17.9,"c":6},{"r":0.0875,"d":17.9,"c":5},{"r":0.0995,"d":17.9,"c":4},{"r":0.113,"d":17.9,"c":4},{"r":0.129,"d":17.9,"c":3},{"r":0.147,"d":17.9,"c":3},{"r":0.167,"d":17.9,"c":4},{"r":0.19,"d":17.9,"c":3},{"r":0.216,"d":17.9,"c":2},{"r":0.0126,"d":12.7,"c":1},{"r":0.0144,"d":12.7,"c":1},{"r":0.0164,"d":12.7,"c":1},{"r":0.0212,"d":12.7,"c":2},{"r":0.0241,"d":12.7,"c":3},{"r":0.0274,"d":12.7,"c":3},{"r":0.0312,"d":12.7,"c":5},{"r":0.0355,"d":12.7,"c":5},{"r":0.0404,"d":12.7,"c":5},{"r":0.0459,"d":12.7,"c":5},{"r":0.0522,"d":12.7,"c":5},{"r":0.0594,"d":12.7,"c":4},{"r":0.0676,"d":12.7,"c":4},{"r":0.0769,"d":12.7,"c":4},{"r":0.0875,"d":12.7,"c":3},{"r":0.0995,"d":12.7,"c":4},{"r":0.113,"d":12.7,"c":5},{"r":0.129,"d":12.7,"c":4},{"r":0.147,"d":12.7,"c":4},{"r":0.167,"d":12.7,"c":3},{"r":0.19,"d":12.7,"c":3},{"r":0.216,"d":12.7,"c":2},{"r":0.245,"d":12.7,"c":1},{"r":0.0126,"d":9.04,"c":1},{"r":0.0144,"d":9.04,"c":2},{"r":0.0164,"d":9.04,"c":1},{"r":0.0274,"d":9.04,"c":2},{"r":0.0312,"d":9.04,"c":3},{"r":0.0355,"d":9.04,"c":4},{"r":0.0404,"d":9.04,"c":4},{"r":0.0459,"d":9.04,"c":3},{"r":0.0522,"d":9.04,"c":3},{"r":0.0594,"d":9.04,"c":3},{"r":0.0676,"d":9.04,"c":4},{"r":0.0769,"d":9.04,"c":2},{"r":0.0875,"d":9.04,"c":3},{"r":0.0995,"d":9.04,"c":3},{"r":0.113,"d":9.04,"c":3},{"r":0.129,"d":9.04,"c":3},{"r":0.147,"d":9.04,"c":2},{"r":0.167,"d":9.04,"c":2},{"r":0.19,"d":9.04,"c":2},{"r":0.216,"d":9.04,"c":2},{"r":0.245,"d":9.04,"c":1},{"r":0.0126,"d":6.41,"c":1},{"r":0.0144,"d":6.41,"c":1},{"r":0.0164,"d":6.41,"c":2},{"r":0.0186,"d":6.41,"c":2},{"r":0.0212,"d":6.41,"c":3},{"r":0.0241,"d":6.41,"c":2},{"r":0.0274,"d":6.41,"c":2},{"r":0.0312,"d":6.41,"c":3},{"r":0.0355,"d":6.41,"c":3},{"r":0.0404,"d":6.41,"c":4},{"r":0.0459,"d":6.41,"c":3},{"r":0.0522,"d":6.41,"c":3},{"r":0.0594,"d":6.41,"c":2},{"r":0.0676,"d":6.41,"c":3},{"r":0.0769,"d":6.41,"c":2},{"r":0.0875,"d":6.41,"c":3},{"r":0.0995,"d":6.41,"c":4},{"r":0.113,"d":6.41,"c":2},{"r":0.129,"d":6.41,"c":2},{"r":0.147,"d":6.41,"c":3},{"r":0.167,"d":6.41,"c":3},{"r":0.19,"d":6.41,"c":2},{"r":0.216,"d":6.41,"c":1},{"r":0.245,"d":6.41,"c":1},{"r":0.0144,"d":4.55,"c":2},{"r":0.0164,"d":4.55,"c":1},{"r":0.0186,"d":4.55,"c":3},{"r":0.0212,"d":4.55,"c":3},{"r":0.0241,"d":4.55,"c":3},{"r":0.0274,"d":4.55,"c":2},{"r":0.0312,"d":4.55,"c":2},{"r":0.0355,"d":4.55,"c":2},{"r":0.0404,"d":4.55,"c":3},{"r":0.0459,"d":4.55,"c":2},{"r":0.0522,"d":4.55,"c":2},{"r":0.0594,"d":4.55,"c":3},{"r":0.0676,"d":4.55,"c":5},{"r":0.0769,"d":4.55,"c":3},{"r":0.0875,"d":4.55,"c":3},{"r":0.0995,"d":4.55,"c":2},{"r":0.113,"d":4.55,"c":2},{"r":0.129,"d":4.55,"c":3},{"r":0.147,"d":4.55,"c":2},{"r":0.167,"d":4.55,"c":2},{"r":0.19,"d":4.55,"c":3},{"r":0.216,"d":4.55,"c":2},{"r":0.245,"d":4.55,"c":2},{"r":0.00859,"d":3.23,"c":1},{"r":0.0164,"d":3.23,"c":1},{"r":0.0186,"d":3.23,"c":2},{"r":0.0212,"d":3.23,"c":2},{"r":0.0241,"d":3.23,"c":3},{"r":0.0274,"d":3.23,"c":3},{"r":0.0312,"d":3.23,"c":2},{"r":0.0355,"d":3.23,"c":2},{"r":0.0404,"d":3.23,"c":3},{"r":0.0459,"d":3.23,"c":2},{"r":0.0522,"d":3.23,"c":2},{"r":0.0594,"d":3.23,"c":3},{"r":0.0676,"d":3.23,"c":2},{"r":0.0769,"d":3.23,"c":2},{"r":0.0875,"d":3.23,"c":3},{"r":0.0995,"d":3.23,"c":3},{"r":0.113,"d":3.23,"c":4},{"r":0.129,"d":3.23,"c":3},{"r":0.147,"d":3.23,"c":3},{"r":0.167,"d":3.23,"c":2},{"r":0.19,"d":3.23,"c":3},{"r":0.216,"d":3.23,"c":2},{"r":0.245,"d":3.23,"c":2},{"r":0.0186,"d":2.29,"c":1},{"r":0.0212,"d":2.29,"c":2},{"r":0.0241,"d":2.29,"c":2},{"r":0.0274,"d":2.29,"c":3},{"r":0.0312,"d":2.29,"c":3},{"r":0.0355,"d":2.29,"c":3},{"r":0.0404,"d":2.29,"c":2},{"r":0.0459,"d":2.29,"c":3},{"r":0.0522,"d":2.29,"c":3},{"r":0.0594,"d":2.29,"c":2},{"r":0.0676,"d":2.29,"c":3},{"r":0.0769,"d":2.29,"c":2},{"r":0.0875,"d":2.29,"c":4},{"r":0.0995,"d":2.29,"c":4},{"r":0.113,"d":2.29,"c":4},{"r":0.129,"d":2.29,"c":3},{"r":0.147,"d":2.29,"c":3},{"r":0.167,"d":2.29,"c":2},{"r":0.19,"d":2.29,"c":2},{"r":0.216,"d":2.29,"c":1},{"r":0.0212,"d":1.63,"c":1},{"r":0.0241,"d":1.63,"c":1},{"r":0.0274,"d":1.63,"c":1},{"r":0.0312,"d":1.63,"c":2},{"r":0.0355,"d":1.63,"c":2},{"r":0.0404,"d":1.63,"c":3},{"r":0.0459,"d":1.63,"c":4},{"r":0.0522,"d":1.63,"c":4},{"r":0.0594,"d":1.63,"c":3},{"r":0.0676,"d":1.63,"c":3},{"r":0.0769,"d":1.63,"c":3},{"r":0.0875,"d":1.63,"c":4},{"r":0.0995,"d":1.63,"c":4},{"r":0.113,"d":1.63,"c":3},{"r":0.129,"d":1.63,"c":3},{"r":0.147,"d":1.63,"c":4},{"r":0.167,"d":1.63,"c":3},{"r":0.0241,"d":1.15,"c":1},{"r":0.0355,"d":1.15,"c":1},{"r":0.0404,"d":1.15,"c":1},{"r":0.0459,"d":1.15,"c":3},{"r":0.0522,"d":1.15,"c":3},{"r":0.0594,"d":1.15,"c":4},{"r":0.0676,"d":1.15,"c":4},{"r":0.0769,"d":1.15,"c":3},{"r":0.0875,"d":1.15,"c":4},{"r":0.0995,"d":1.15,"c":5},{"r":0.113,"d":1.15,"c":5},{"r":0.129,"d":1.15,"c":4},{"r":0.147,"d":1.15,"c":3},{"r":0.167,"d":1.15,"c":2},{"r":0.19,"d":1.15,"c":1},{"r":0.0404,"d":0.82,"c":2},{"r":0.0459,"d":0.82,"c":2},{"r":0.0522,"d":0.82,"c":3},{"r":0.0594,"d":0.82,"c":3},{"r":0.0676,"d":0.82,"c":4},{"r":0.0769,"d":0.82,"c":3},{"r":0.0875,"d":0.82,"c":5},{"r":0.0995,"d":0.82,"c":6},{"r":0.113,"d":0.82,"c":6},{"r":0.129,"d":0.82,"c":5},{"r":0.147,"d":0.82,"c":3},{"r":0.167,"d":0.82,"c":2},{"r":0.19,"d":0.82,"c":1},{"r":0.0404,"d":0.582,"c":1},{"r":0.0459,"d":0.582,"c":2},{"r":0.0522,"d":0.582,"c":2},{"r":0.0594,"d":0.582,"c":3},{"r":0.0676,"d":0.582,"c":3},{"r":0.0769,"d":0.582,"c":2},{"r":0.0875,"d":0.582,"c":4},{"r":0.0995,"d":0.582,"c":5},{"r":0.113,"d":0.582,"c":6},{"r":0.129,"d":0.582,"c":4},{"r":0.147,"d":0.582,"c":3},{"r":0.167,"d":0.582,"c":2},{"r":0.0594,"d":0.413,"c":1},{"r":0.0676,"d":0.413,"c":2},{"r":0.0769,"d":0.413,"c":2},{"r":0.0875,"d":0.413,"c":3},{"r":0.0995,"d":0.413,"c":3},{"r":0.113,"d":0.413,"c":4},{"r":0.129,"d":0.413,"c":3},{"r":0.147,"d":0.413,"c":2},{"r":0.167,"d":0.413,"c":1},{"r":0.19,"d":0.413,"c":1},{"r":0.0769,"d":0.293,"c":1},{"r":0.0875,"d":0.293,"c":2},{"r":0.0995,"d":0.293,"c":2},{"r":0.113,"d":0.293,"c":3},{"r":0.129,"d":0.293,"c":2},{"r":0.147,"d":0.293,"c":1},{"r":0.167,"d":0.293,"c":1},{"r":0.0875,"d":0.208,"c":2},{"r":0.113,"d":0.208,"c":1},{"r":0.129,"d":0.208,"c":1},{"r":0.147,"d":0.208,"c":1},{"r":0.0875,"d":0.148,"c":1}]},"mark":{"type":"rect","width":5,"height":3.4},"encoding":{"color":{"field":"c","type":"ordinal","legend":null,"scale":{"domain":[1,2,3,4,5,6],"range":["#eef8ea","#c7e9c0","#90d18d","#41ab5d","#1e8741","#00441b"]}}}},
{"data":{"values":[{"r":0.000484,"d":1400000},{"r":0.000484,"d":1200000},{"r":0.000676,"d":1450000},{"r":0.000698,"d":1450000},{"r":0.000688,"d":1300000},{"r":0.000802,"d":466000},{"r":0.00114,"d":1030000},{"r":0.0013,"d":870000},{"r":0.00138,"d":620000},{"r":0.00124,"d":100000},{"r":0.00179,"d":110000}]},"mark":{"type":"point","shape":"square","filled":true,"color":"red","size":6,"opacity":1}}
]}]}]}
